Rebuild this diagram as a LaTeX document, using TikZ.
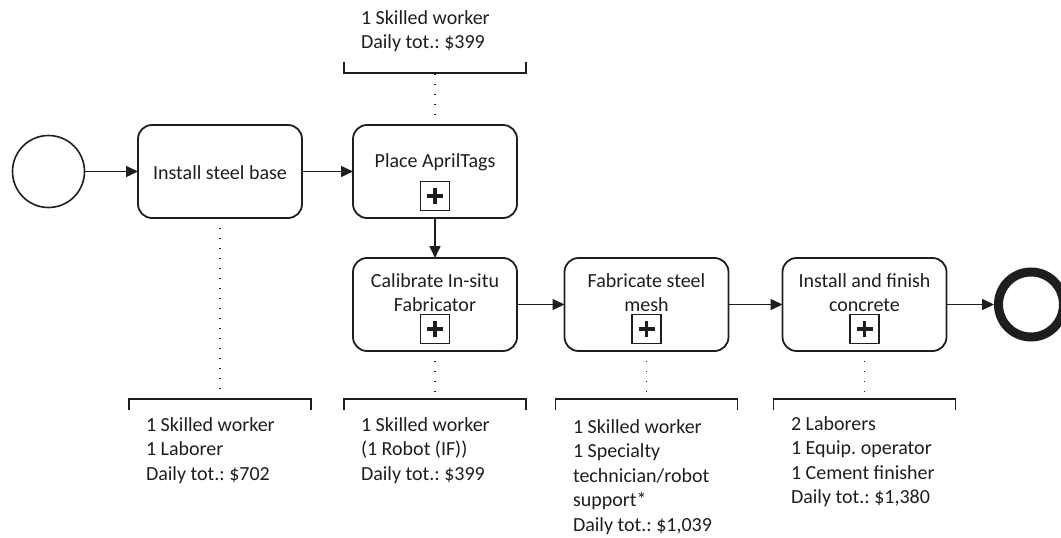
\documentclass[tikz,border=0pt]{standalone}
\usepackage{fontspec}
\setmainfont{Carlito}
\usetikzlibrary{arrows.meta}
\definecolor{ink}{HTML}{1E1E1E}
\frenchspacing
\begin{document}
\begin{tikzpicture}[x=1pt,y=-1pt,
  every node/.style={inner sep=0pt, outer sep=0pt},
  task/.style={draw=ink, line width=1.8pt, rounded corners=14pt, minimum width=164pt, minimum height=93pt},
  flow/.style={draw=ink, line width=1.6pt, -{Triangle[length=12pt,width=11pt]}},
  assoc/.style={draw=ink, line width=1.3pt, dash pattern=on 1.3pt off 8.7pt},
  bracket/.style={draw=ink, line width=1.6pt},
  lbl/.style={font=\fontsize{20}{24.5}\selectfont\frenchspacing, text=ink},
  plusbox/.style={draw=ink, line width=1.4pt, minimum size=29pt,
    path picture={\draw[ink, line width=3.6pt] (path picture bounding box.center) ++(-8pt,0) -- ++(16pt,0);
                  \draw[ink, line width=3.6pt] (path picture bounding box.center) ++(0,-8pt) -- ++(0,16pt);}},
]
\useasboundingbox (0,0) rectangle (1061,538);

% events
\node[circle, draw=ink, line width=1.6pt, minimum size=72pt] (start) at (48.5,171.5) {};
\node[circle, draw=ink, line width=9pt, minimum size=65pt, outer sep=4.5pt] (end) at (1031,304.5) {};

% tasks
\node[task] (t1) at (220,171.5) {};
\node[task] (t2) at (435,171.5) {};
\node[task] (t3) at (435,304.5) {};
\node[task] (t4) at (646.5,304.5) {};
\node[task] (t5) at (864.5,304.5) {};

% task labels
\node[lbl, anchor=base] (l1) at (220,179) {Install steel base};
\node[lbl, anchor=base] (l2) at (435,167) {Place AprilTags};
\node[lbl, anchor=base] (l3) at (435,287) {\begin{tabular}[t]{@{}c@{}}Calibrate In-situ\\Fabricator\end{tabular}};
\node[lbl, anchor=base] (l4) at (646.5,287) {\begin{tabular}[t]{@{}c@{}}Fabricate steel\\mesh\end{tabular}};
\node[lbl, anchor=base] (l5) at (864.5,287) {\begin{tabular}[t]{@{}c@{}}Install and finish\\concrete\end{tabular}};

% sub-process markers
\node[plusbox] (p2) at (435,196) {};
\node[plusbox] (p3) at (435,329) {};
\node[plusbox] (p4) at (646.5,329) {};
\node[plusbox] (p5) at (864.5,329) {};

% sequence flows
\draw[flow] (start) -- (t1);
\draw[flow] (t1) -- (t2);
\draw[flow] (t2) -- (t3);
\draw[flow] (t3) -- (t4);
\draw[flow] (t4) -- (t5);
\draw[flow] (t5) -- (end);

% annotation anchors
\coordinate (b2) at (435,73);
\coordinate (b1) at (220,399);
\coordinate (b3) at (435,399);
\coordinate (b4) at (646.5,399);
\coordinate (b5) at (864.5,399);

% brackets
\draw[bracket] (b2) ++(-91,-11) -- ++(0,11) -- ++(182,0) -- ++(0,-11);
\draw[bracket] (b1) ++(-91,11) -- ++(0,-11) -- ++(182,0) -- ++(0,11);
\draw[bracket] (b3) ++(-91,11) -- ++(0,-11) -- ++(182,0) -- ++(0,11);
\draw[bracket] (b4) ++(-91,11) -- ++(0,-11) -- ++(182,0) -- ++(0,11);
\draw[bracket] (b5) ++(-91,11) -- ++(0,-11) -- ++(182,0) -- ++(0,11);

% associations
\draw[assoc] (t2.north) -- (b2);
\draw[assoc] (t1.south) -- (b1);
\draw[assoc] (t3.south) -- (b3);
\draw[assoc] (t4.south) -- (b4);
\draw[assoc] (t5.south) -- (b5);

% annotation texts
\node[lbl, anchor=base west] (a2) at (361,24.5) {\begin{tabular}[t]{@{}l@{}}1 Skilled worker\\Daily tot.: \$399\end{tabular}};
\node[lbl, anchor=base west] (a1) at (146,431) {\begin{tabular}[t]{@{}l@{}}1 Skilled worker\\1 Laborer\\Daily tot.: \$702\end{tabular}};
\node[lbl, anchor=base west] (a3) at (361,431) {\begin{tabular}[t]{@{}l@{}}1 Skilled worker\\(1 Robot (IF))\\Daily tot.: \$399\end{tabular}};
\node[lbl, anchor=base west] (a4) at (573,433) {\begin{tabular}[t]{@{}l@{}}1 Skilled worker\\1 Specialty\\technician/robot\\support*\\Daily tot.: \$1,039\end{tabular}};
\node[lbl, anchor=base west] (a5) at (791,430) {\begin{tabular}[t]{@{}l@{}}2 Laborers\\1 Equip. operator\\1 Cement finisher\\Daily tot.: \$1,380\end{tabular}};
\end{tikzpicture}
\end{document}
